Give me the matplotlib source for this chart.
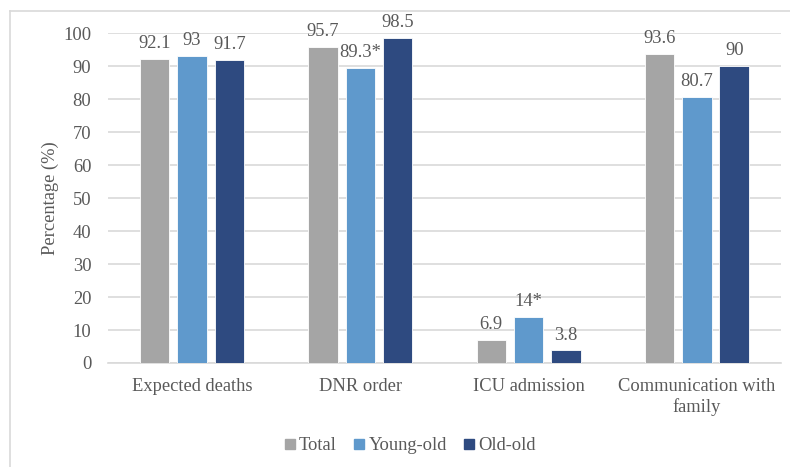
import matplotlib
matplotlib.use("Agg")
import matplotlib.pyplot as plt
from matplotlib.lines import Line2D
import numpy as np

categories = ["Expected deaths", "DNR order", "ICU admission", "Communication with\nfamily"]
series_names = ["Total", "Young-old", "Old-old"]
total = [92.1, 95.7, 6.9, 93.6]
young_old = [93.0, 89.3, 14.0, 80.7]
old_old = [91.7, 98.5, 3.8, 90.0]
value_labels = [
    ["92.1", "95.7", "6.9", "93.6"],
    ["93", "89.3*", "14*", "80.7"],
    ["91.7", "98.5", "3.8", "90"],
]
y_ticks = list(range(0, 101, 10))

colors = ["#A5A5A5", "#5F99CC", "#2E4A80"]
text_color = "#595959"
grid_color = "#D9D9D9"

plt.rcParams["font.family"] = ["Liberation Serif", "DejaVu Serif"]

fig = plt.figure(figsize=(7.9, 4.67), dpi=100)
ax = fig.add_axes([0.1367, 0.2227, 0.8519, 0.7066])

x = np.arange(len(categories))
width = 0.175
offset = 0.222
series = [total, young_old, old_old]
for i, (vals, col) in enumerate(zip(series, colors)):
    pos = x + (i - 1) * offset
    bars = ax.bar(pos, vals, width=width, color=col, edgecolor="white",
                  linewidth=0.6, zorder=3, label=series_names[i])
    for b, lab in zip(bars, value_labels[i]):
        ax.annotate(lab, (b.get_x() + b.get_width() / 2, b.get_height()),
                    xytext=(0, 5), textcoords="offset points",
                    ha="center", va="bottom", fontsize=13.3, color=text_color)

ax.set_xlim(-0.5, len(categories) - 0.5)
ax.set_ylim(0, 100)
ax.set_yticks(y_ticks)
ax.set_xticks(x)
ax.set_xticklabels(categories, fontsize=13.3, color=text_color, linespacing=1.2)
ax.tick_params(axis="y", labelsize=13.3, labelcolor=text_color, length=0, pad=12)
ax.tick_params(axis="x", length=0, pad=11)
ax.yaxis.grid(True, color=grid_color, linewidth=1.2, zorder=0)
ax.set_axisbelow(True)
for s in ["left", "right", "top"]:
    ax.spines[s].set_visible(False)
ax.spines["bottom"].set_color(grid_color)
ax.spines["bottom"].set_linewidth(1.2)
ax.set_ylabel("Percentage (%)", fontsize=13.3, color=text_color, labelpad=3)

handles = [Line2D([], [], marker="s", linestyle="none", markersize=7.5,
                  markerfacecolor=c, markeredgecolor=c) for c in colors]
fig.legend(handles, series_names, loc="center", bbox_to_anchor=(409 / 790, 0.046),
           ncol=3, frameon=False, fontsize=13.3, handletextpad=0.1,
           columnspacing=0.8, labelcolor=text_color, handlelength=0.8)

# outer frame edges of the chart area
fig.add_artist(Line2D([10 / 790, 10 / 790], [0, 1 - 11 / 467],
                      transform=fig.transFigure, color="#D9D9D9", linewidth=1.2))
fig.add_artist(Line2D([10 / 790, 1], [1 - 11 / 467, 1 - 11 / 467],
                      transform=fig.transFigure, color="#D9D9D9", linewidth=1.2))

fig.savefig("out.png", dpi=100, facecolor="white")
